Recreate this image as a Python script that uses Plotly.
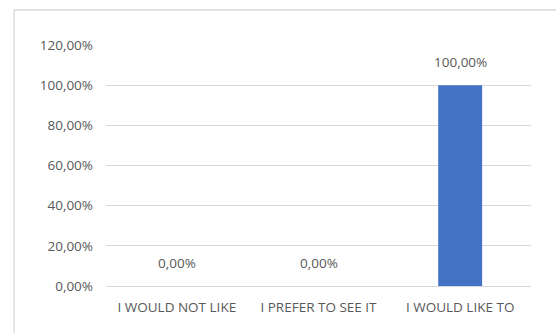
import plotly.graph_objects as go

categories = ["I WOULD NOT LIKE", "I PREFER TO SEE IT", "I WOULD LIKE TO"]
shares = [0.0, 0.0, 1.0]
y_ticks = [0.0, 0.2, 0.4, 0.6, 0.8, 1.0, 1.2]

W, H = 556, 333
ML, MR, MT, MB = 106, 25, 45, 47
pw, ph = W - ML - MR, H - MT - MB

font_color = "#595959"
font_family = "Open Sans, Carlito, Calibri, sans-serif"
fsize = 13.5

fig = go.Figure(
    go.Bar(
        x=categories,
        y=shares,
        marker=dict(color="#4472C4", line=dict(width=0)),
        hoverinfo="skip",
    )
)

# value labels above each bar
for c, v in zip(categories, shares):
    fig.add_annotation(
        x=c, y=v, xref="x", yref="y",
        text=f"{v * 100:.2f}%".replace(".", ","),
        showarrow=False, yanchor="bottom", yshift=12,
        font=dict(size=fsize, color=font_color, family=font_family),
    )

# light chart-area frame (left and top edges visible)
fx0 = (14 - ML) / pw
fy1 = 1 + (MT - 10) / ph
fig.add_shape(type="line", xref="paper", yref="paper",
              x0=fx0, x1=fx0, y0=-1, y1=fy1,
              line=dict(color="#d9d9d9", width=1.3))
fig.add_shape(type="line", xref="paper", yref="paper",
              x0=fx0, x1=2, y0=fy1, y1=fy1,
              line=dict(color="#d9d9d9", width=1.3))

fig.update_layout(
    width=W, height=H,
    margin=dict(l=ML, r=MR, t=MT, b=MB),
    paper_bgcolor="white", plot_bgcolor="white",
    separators=", ",
    bargap=0.69,
    showlegend=False,
    font=dict(family=font_family, size=fsize, color=font_color),
    xaxis=dict(
        showgrid=False, showline=False, ticks="",
        tickfont=dict(size=fsize, color=font_color),
        ticklabelstandoff=11,
        fixedrange=True,
    ),
    yaxis=dict(
        range=[0, 1.2], tickvals=y_ticks, tickformat=".2%",
        showgrid=True, gridcolor="#d9d9d9", gridwidth=1.3,
        zeroline=True, zerolinecolor="#d9d9d9", zerolinewidth=1.3,
        showline=False, ticks="", ticklabelstandoff=12,
        tickfont=dict(size=fsize, color=font_color),
        fixedrange=True,
    ),
)

fig.write_html("out.html", config={"displayModeBar": False})
